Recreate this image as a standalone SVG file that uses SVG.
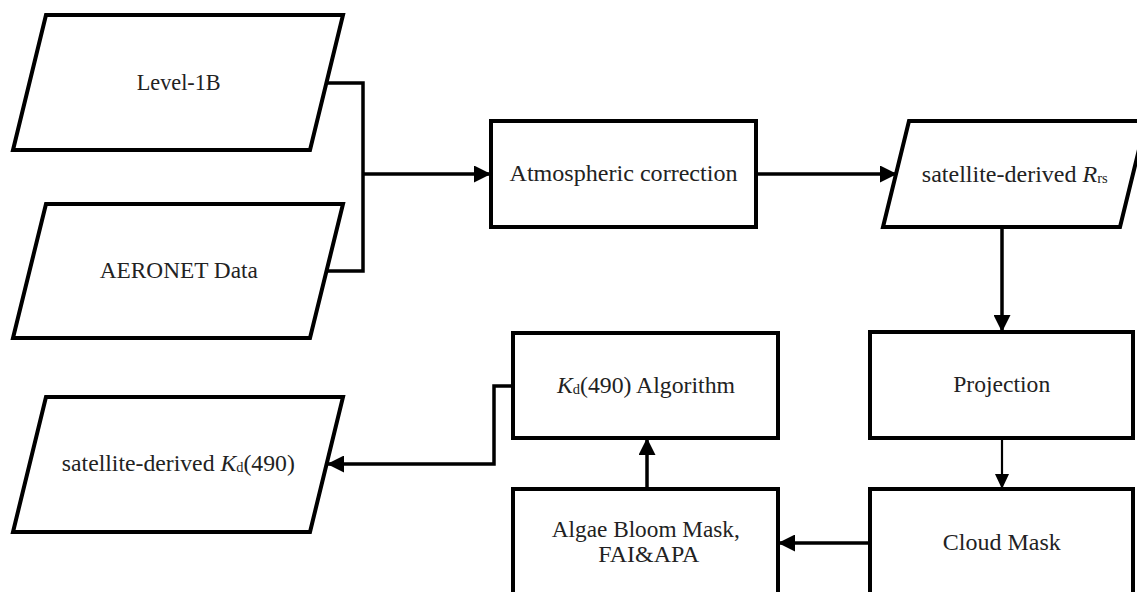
<svg xmlns="http://www.w3.org/2000/svg" width="1137" height="592" viewBox="0 0 1137 592">
<style>
.shape{fill:#ffffff;stroke:#000000;stroke-width:4;stroke-linejoin:miter}
.conn{fill:none;stroke:#000000;stroke-width:3.5}
.thin{fill:none;stroke:#000000;stroke-width:2.2}
.lbl{font-family:"Liberation Serif","DejaVu Serif",serif;font-size:23px;fill:#222222;text-anchor:middle}
.sub{font-size:14px}
.it{font-style:italic}
</style>
<defs>
<marker id="ah" markerUnits="userSpaceOnUse" markerWidth="17" markerHeight="17" refX="17" refY="8.5" orient="auto">
<path d="M0,0 L17,8.5 L0,17 z" fill="#000000"/>
</marker>
<marker id="ahs" markerUnits="userSpaceOnUse" markerWidth="15" markerHeight="14" refX="15" refY="7" orient="auto">
<path d="M0,0 L15,7 L0,14 z" fill="#000000"/>
</marker>
</defs>
<rect width="1137" height="592" fill="#ffffff"/>
<g id="connectors">
<polyline class="conn" points="326,83 363,83 363,271 327,271"/>
<line class="conn" x1="363" y1="174" x2="491" y2="174" marker-end="url(#ah)"/>
<line class="conn" x1="756" y1="174" x2="897" y2="174" marker-end="url(#ah)"/>
<line class="conn" x1="1002" y1="227" x2="1002" y2="332" marker-end="url(#ah)"/>
<line class="thin" x1="1002" y1="438" x2="1002" y2="489" marker-end="url(#ahs)"/>
<line class="conn" x1="870" y1="543" x2="778" y2="543" marker-end="url(#ah)"/>
<line class="conn" x1="647" y1="489" x2="647" y2="438" marker-end="url(#ah)"/>
<polyline class="conn" points="513,386 494,386 494,464 327,464" marker-end="url(#ah)"/>
</g>
<g id="level1b">
<polygon class="shape" points="46,15 343,15 310,150 13,150"/>
<text class="lbl" x="178.7" y="90" textLength="84" lengthAdjust="spacingAndGlyphs">Level-1B</text>
</g>
<g id="aeronet">
<polygon class="shape" points="46,204 343,204 310,338 13,338"/>
<text class="lbl" x="178.8" y="278" textLength="158" lengthAdjust="spacingAndGlyphs">AERONET Data</text>
</g>
<g id="atmospheric">
<rect class="shape" x="491" y="121" width="265" height="106"/>
<text class="lbl" x="623.5" y="181" textLength="228" lengthAdjust="spacingAndGlyphs">Atmospheric correction</text>
</g>
<g id="rrs">
<polygon class="shape" points="909,121 1146,121 1120,227 883,227"/>
<text class="lbl" x="1014.8" y="181.7" textLength="186" lengthAdjust="spacingAndGlyphs">satellite-derived <tspan class="it">R</tspan><tspan class="sub" dy="1">rs</tspan></text>
</g>
<g id="projection">
<rect class="shape" x="870" y="332" width="263" height="106"/>
<text class="lbl" x="1001.7" y="392" textLength="97" lengthAdjust="spacingAndGlyphs">Projection</text>
</g>
<g id="cloudmask">
<rect class="shape" x="870" y="489" width="263" height="140"/>
<text class="lbl" x="1001.8" y="549.5" textLength="118" lengthAdjust="spacingAndGlyphs">Cloud Mask</text>
</g>
<g id="algae">
<rect class="shape" x="513" y="489" width="265" height="140"/>
<text class="lbl" x="645.8" y="537.3" textLength="188" lengthAdjust="spacingAndGlyphs">Algae Bloom Mask,</text>
<text class="lbl" x="648.8" y="561.7" textLength="101" lengthAdjust="spacingAndGlyphs">FAI&amp;APA</text>
</g>
<g id="kdalgorithm">
<rect class="shape" x="513" y="333" width="265" height="105"/>
<text class="lbl" x="646" y="392.7" textLength="178" lengthAdjust="spacingAndGlyphs"><tspan class="it">K</tspan><tspan class="sub" dy="1">d</tspan><tspan dy="-1">(490) Algorithm</tspan></text>
</g>
<g id="kd490">
<polygon class="shape" points="46,397 343,397 310,532 13,532"/>
<text class="lbl" x="178.3" y="470.7" textLength="233" lengthAdjust="spacingAndGlyphs">satellite-derived <tspan class="it">K</tspan><tspan class="sub" dy="1">d</tspan><tspan dy="-1">(490)</tspan></text>
</g>
</svg>
